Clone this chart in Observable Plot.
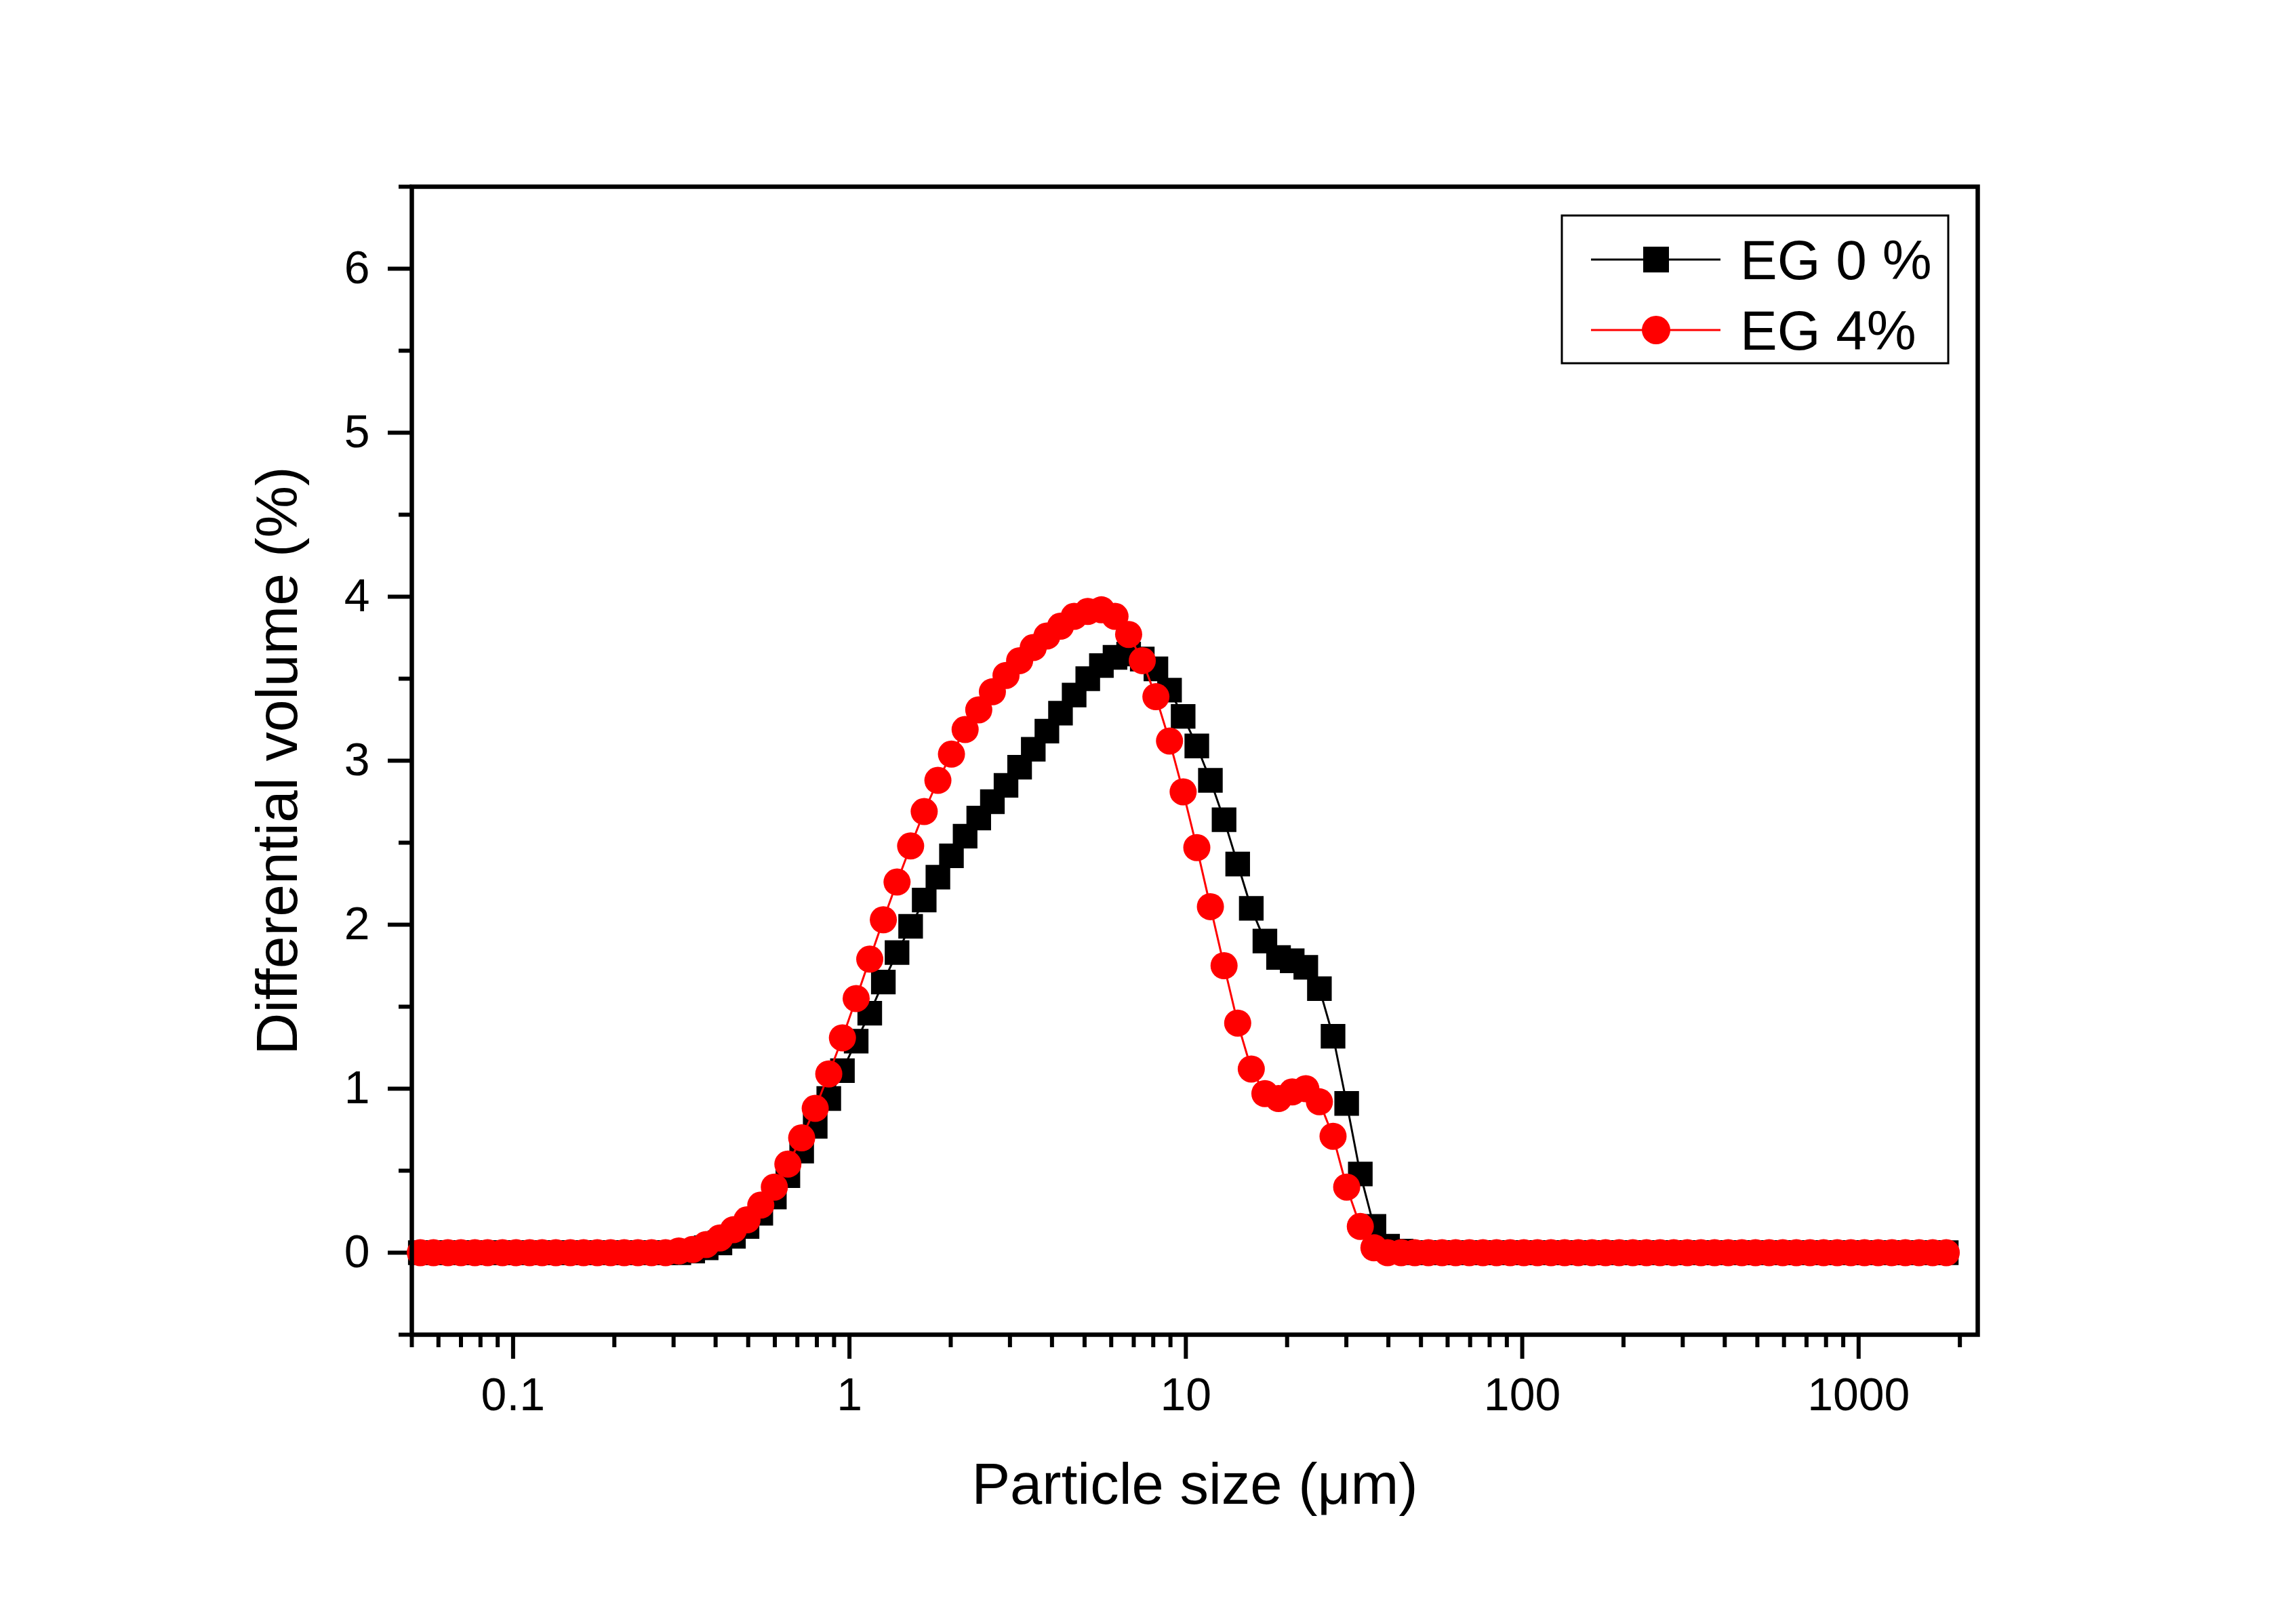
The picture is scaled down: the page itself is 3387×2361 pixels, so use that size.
<!DOCTYPE html>
<html><head><meta charset="utf-8">
<script src="https://cdn.jsdelivr.net/npm/d3@7"></script>
<script src="https://cdn.jsdelivr.net/npm/@observablehq/plot@0.6"></script>
<style>
html,body{margin:0;padding:0;background:#fff;}
#wrap{position:relative;width:3387px;height:2361px;background:#fff;}
#legend{position:absolute;left:0;top:0;pointer-events:none;}
</style></head><body><div id="wrap"></div>
<script>
// Particle size channels (µm)
const sizes = [
  0.053, 0.058, 0.064, 0.070, 0.077, 0.084, 0.093, 0.102, 0.112, 0.122,
  0.134, 0.148, 0.162, 0.178, 0.195, 0.214, 0.235, 0.258, 0.284, 0.311,
  0.342, 0.375, 0.412, 0.452, 0.496, 0.545, 0.598, 0.656, 0.721, 0.791,
  0.868, 0.953, 1.047, 1.149, 1.261, 1.385, 1.520, 1.668, 1.832, 2.010,
  2.207, 2.423, 2.660, 2.920, 3.205, 3.519, 3.863, 4.240, 4.655, 5.110,
  5.610, 6.158, 6.760, 7.421, 8.147, 8.943, 9.817, 10.78, 11.83, 12.99,
  14.26, 15.65, 17.18, 18.86, 20.71, 22.73, 24.95, 27.39, 30.07, 33.01,
  36.24, 39.78, 43.67, 47.94, 52.62, 57.77, 63.41, 69.61, 76.42, 83.89,
  92.09, 101.1, 111.0, 121.8, 133.7, 146.8, 161.2, 176.9, 194.2, 213.2,
  234.1, 256.9, 282.1, 309.6, 339.9, 373.1, 409.6, 449.7, 493.6, 541.9,
  594.9, 653.0, 716.9, 786.9, 863.9, 948.3, 1041, 1143, 1255, 1377,
  1512, 1660, 1822
];
// Differential volume (%) — EG 0 %
const eg0 = [
  0, 0, 0, 0, 0, 0, 0, 0, 0, 0,
  0, 0, 0, 0, 0, 0, 0, 0, 0, 0.00,
  0.01, 0.03, 0.06, 0.10, 0.16, 0.24, 0.34, 0.47, 0.62, 0.77,
  0.94, 1.11, 1.29, 1.46, 1.65, 1.83, 1.99, 2.15, 2.29, 2.42,
  2.54, 2.65, 2.75, 2.85, 2.96, 3.07, 3.18, 3.29, 3.40, 3.50,
  3.58, 3.63, 3.65, 3.62, 3.56, 3.43, 3.27, 3.09, 2.88, 2.64,
  2.37, 2.10, 1.90, 1.80, 1.78, 1.74, 1.61, 1.32, 0.91, 0.48,
  0.16, 0.04, 0.01, 0, 0, 0, 0, 0, 0, 0,
  0, 0, 0, 0, 0, 0, 0, 0, 0, 0,
  0, 0, 0, 0, 0, 0, 0, 0, 0, 0,
  0, 0, 0, 0, 0, 0, 0, 0, 0, 0,
  0, 0, 0
];
// Differential volume (%) — EG 4%
const eg4 = [
  0, 0, 0, 0, 0, 0, 0, 0, 0, 0,
  0, 0, 0, 0, 0, 0, 0, 0, 0, 0.01,
  0.02, 0.05, 0.09, 0.14, 0.20, 0.29, 0.40, 0.54, 0.70, 0.88,
  1.09, 1.31, 1.55, 1.79, 2.03, 2.26, 2.48, 2.69, 2.88, 3.04,
  3.19, 3.31, 3.42, 3.52, 3.61, 3.69, 3.76, 3.82, 3.88, 3.91,
  3.92, 3.88, 3.77, 3.61, 3.39, 3.12, 2.81, 2.47, 2.11, 1.75,
  1.40, 1.12, 0.97, 0.94, 0.98, 1.00, 0.92, 0.71, 0.40, 0.16,
  0.03, 0, 0, 0, 0, 0, 0, 0, 0, 0,
  0, 0, 0, 0, 0, 0, 0, 0, 0, 0,
  0, 0, 0, 0, 0, 0, 0, 0, 0, 0,
  0, 0, 0, 0, 0, 0, 0, 0, 0, 0,
  0, 0, 0
];
const seriesNames = ["EG 0 %", "EG 4%"];
const xMajorTicks = [0.1, 1, 10, 100, 1000];
const xMinorTicks = [0.05, 0.06, 0.07, 0.08, 0.09, 0.2, 0.3, 0.4, 0.5, 0.6, 0.7, 0.8, 0.9,
  2, 3, 4, 5, 6, 7, 8, 9, 20, 30, 40, 50, 60, 70, 80, 90,
  200, 300, 400, 500, 600, 700, 800, 900, 2000];
const yMajorTicks = [0, 1, 2, 3, 4, 5, 6];
const yMinorTicks = [-0.5, 0.5, 1.5, 2.5, 3.5, 4.5, 5.5, 6.5];
const xTitle = "Particle size (\u03bcm)";
const yTitle = "Differential volume (%)";

const rows0 = sizes.map((s, i) => ({size: s, v: eg0[i]}));
const rows4 = sizes.map((s, i) => ({size: s, v: eg4[i]}));

const font = "'Liberation Sans', Arial, Helvetica, sans-serif";

const chart = Plot.plot({
  width: 3387, height: 2361,
  marginLeft: 607, marginRight: 470, marginTop: 275, marginBottom: 392,
  style: {fontFamily: font, fontSize: "68px", color: "#000", background: "#fff"},
  x: {type: "log", domain: [0.05, 2260]},
  y: {domain: [-0.5, 6.5]},
  marks: [
    Plot.axisX({ticks: xMinorTicks, tickSize: 19, tickFormat: () => "", strokeWidth: 6, label: null}),
    Plot.axisX({ticks: xMajorTicks, tickSize: 36, tickPadding: 27, tickFormat: d => String(d), strokeWidth: 6, label: null}),
    Plot.axisY({ticks: yMinorTicks, tickSize: 19, tickFormat: () => "", strokeWidth: 6, label: null}),
    Plot.axisY({ticks: yMajorTicks, tickSize: 35, tickPadding: 27, tickFormat: d => String(d), strokeWidth: 6, label: null}),
    Plot.line(rows0, {x: "size", y: "v", stroke: "#000", strokeWidth: 3}),
    Plot.dot(rows0, {x: "size", y: "v", symbol: "square", r: 20.5, fill: "#000"}),
    Plot.line(rows4, {x: "size", y: "v", stroke: "#ff0000", strokeWidth: 3}),
    Plot.dot(rows4, {x: "size", y: "v", symbol: "circle", r: 20, fill: "#ff0000"}),
    Plot.frame({stroke: "#000", strokeWidth: 6.5}),
    Plot.text([xTitle], {text: d => d, frameAnchor: "bottom", textAnchor: "middle", dy: 249, lineAnchor: "bottom", fontSize: 85}),
    Plot.text([yTitle], {text: d => d, frameAnchor: "left", textAnchor: "middle", dx: -170, rotate: -90, lineAnchor: "bottom", fontSize: 86})
  ]
});
const wrap = document.getElementById("wrap");
wrap.appendChild(chart);

// Legend overlay (inside plot area, top right)
const ns = "http://www.w3.org/2000/svg";
const lg = document.createElementNS(ns, "svg");
lg.setAttribute("id", "legend");
lg.setAttribute("width", 3387);
lg.setAttribute("height", 2361);
const legendItems = [
  {name: seriesNames[0], color: "#000", symbol: "square", cy: 383},
  {name: seriesNames[1], color: "#ff0000", symbol: "circle", cy: 487}
];
let html = `<rect x="2304" y="318" width="570" height="218" fill="#fff" stroke="#000" stroke-width="3"/>`;
for (const it of legendItems) {
  html += `<line x1="2347" x2="2538" y1="${it.cy}" y2="${it.cy}" stroke="${it.color}" stroke-width="3"/>`;
  if (it.symbol === "square") html += `<rect x="${2443 - 19}" y="${it.cy - 19}" width="38" height="38" fill="${it.color}"/>`;
  else html += `<circle cx="2443" cy="${it.cy}" r="21" fill="${it.color}"/>`;
  html += `<text x="2567" y="${it.cy + 29}" font-family="${font.replace(/'/g, "&quot;")}" font-size="82" fill="#000">${it.name}</text>`;
}
lg.innerHTML = html;
wrap.appendChild(lg);
</script>
</body></html>
